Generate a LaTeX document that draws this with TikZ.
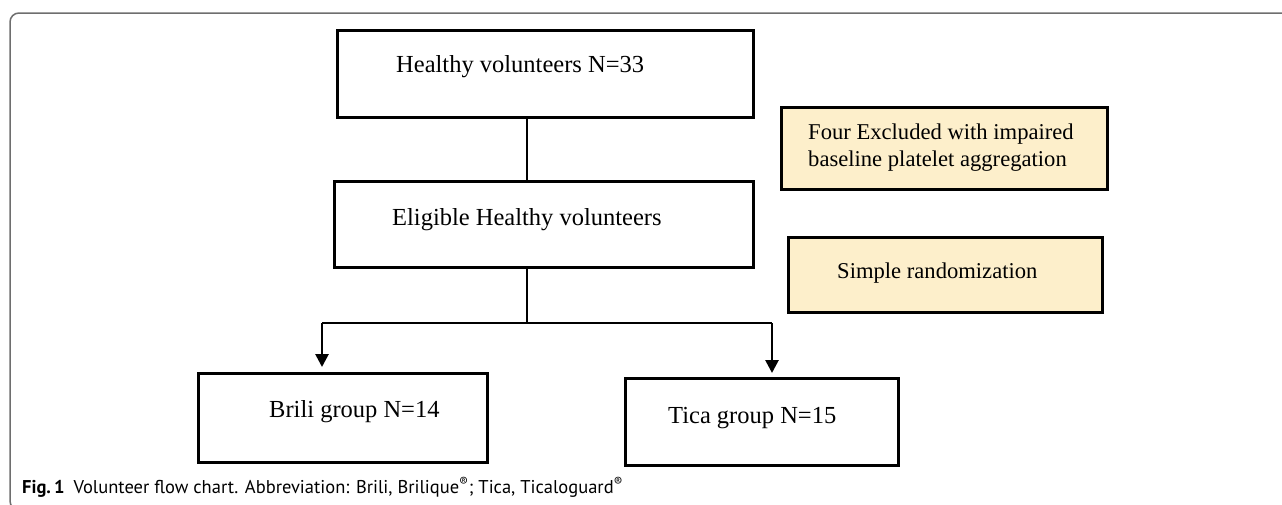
\documentclass[tikz,border=0pt]{standalone}
\usepackage{fontspec}
\setmainfont{Liberation Serif}
\newfontfamily\capfont{PT Sans}
\usetikzlibrary{arrows.meta}
\definecolor{boxyellow}{RGB}{253,239,203}
\definecolor{framegray}{RGB}{110,110,110}
\tikzset{
  box/.style={draw=black, line width=3pt, rectangle, inner sep=0pt, outer sep=0pt, anchor=north west},
  ybox/.style={box, fill=boxyellow},
  txt/.style={anchor=west, inner sep=0pt, font=\fontsize{24.5}{28}\selectfont},
  ytxt/.style={anchor=west, inner sep=0pt, align=left, font=\fontsize{22.6}{27}\selectfont},
  conn/.style={line width=2.7pt, draw=black},
  arr/.style={conn, -{Triangle[length=13pt,width=13pt]}},
  frame/.style={draw=framegray, line width=1.5pt, rounded corners=9pt}
}
\begin{document}
\begin{tikzpicture}[x=1pt, y=-1pt]
\useasboundingbox (0,0) rectangle (1282,504);
\clip (0,0) rectangle (1282,504);
\draw[frame] (10,13) rectangle (1320,510);
% boxes
\node[box, minimum width=416pt, minimum height=87pt] (healthy) at (337,30) {};
\node[box, minimum width=419pt, minimum height=86pt] (eligible) at (334,181) {};
\node[ybox, minimum width=326pt, minimum height=82pt] (excl) at (781,107) {};
\node[ybox, minimum width=314pt, minimum height=75pt] (rand) at (788,237) {};
\node[box, minimum width=289pt, minimum height=89pt] (brili) at (198,373) {};
\node[box, minimum width=273pt, minimum height=87pt] (tica) at (625,378) {};
% texts
\node[txt] (healthyt) at (396,67) {Healthy volunteers N=33};
\node[txt] (eligiblet) at (392,220) {Eligible Healthy volunteers};
\node[ytxt] (exclt) at (808,148) {Four Excluded with impaired\\baseline platelet aggregation};
\node[ytxt] (randt) at (837,273) {Simple randomization};
\node[txt] (brilit) at (269,412) {Brili group N=14};
\node[txt] (ticat) at (668,418) {Tica group N=15};
% connectors
\coordinate (up) at (527,117);
\coordinate (dn) at (527,181);
\coordinate (split) at (527,323);
\coordinate (lft) at (322,323);
\coordinate (rgt) at (772,323);
\draw[conn] (up) -- (dn);
\draw[conn] (eligible.south -| split) -- (split);
\draw[conn] (lft) -- (rgt);
\draw[arr] (lft) -- ([yshift=6pt]brili.north -| lft);
\draw[arr] (rgt) -- ([yshift=5pt]tica.north -| rgt);
% caption
\node[anchor=base west, inner sep=0pt, font=\capfont\fontsize{18.5}{22}\selectfont] (cap) at (22,493)
  {\textbf{Fig.\,1}\hspace{9pt}Volunteer flow chart. Abbreviation: Brili, Brilique\textsuperscript{®}; Tica, Ticaloguard\textsuperscript{®}};
\end{tikzpicture}
\end{document}
